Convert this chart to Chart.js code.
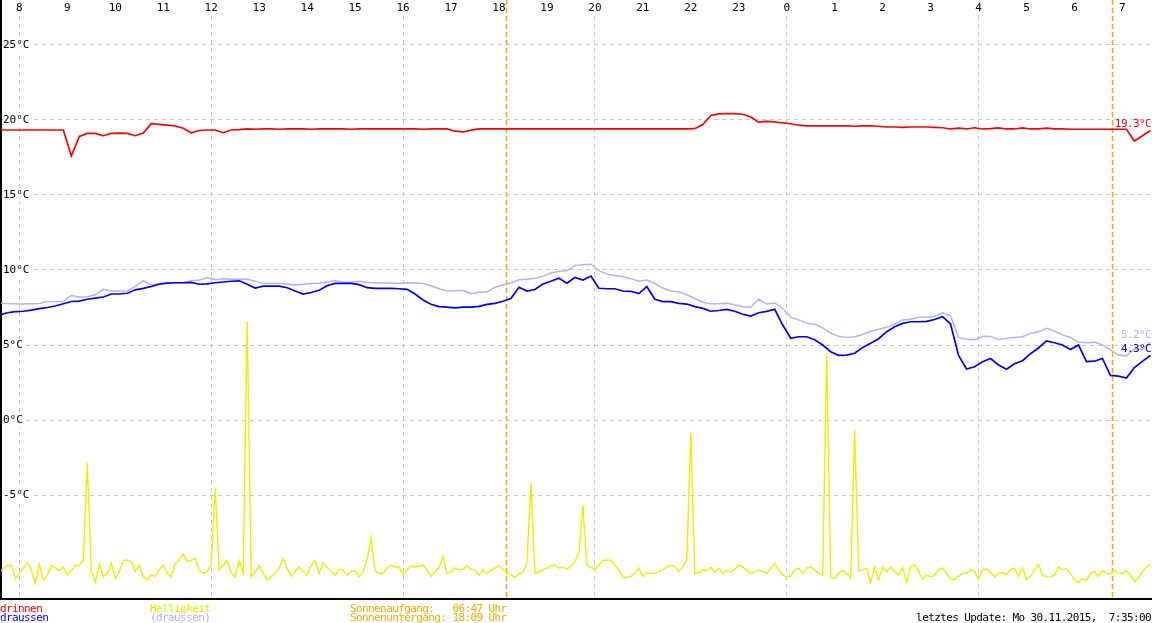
<!DOCTYPE html>
<html>
<head>
<meta charset="utf-8">
<title>Temperaturverlauf</title>
<script src="https://cdn.jsdelivr.net/npm/chart.js@4.4.1/dist/chart.umd.min.js"></script>
<style>
html, body { margin: 0; padding: 0; background: #fff; }
canvas { display: block; }
</style>
</head>
<body>
<canvas id="tempChart" width="1152" height="623"></canvas>
<script>
// hours since midnight of the first day (24 = 0 Uhr, 31 = 7 Uhr next morning)
var startHour = 7 + 35 / 60;      // first sample 7:35
var tempStep = 10 / 60;           // temperatures every 10 min
var lightStep = 5 / 60;           // brightness every 5 min
var axisMin = 7 + 37 / 60;
var axisMax = axisMin + 24;

var hourTicks = [8, 9, 10, 11, 12, 13, 14, 15, 16, 17, 18, 19, 20, 21, 22, 23, 24, 25, 26, 27, 28, 29, 30, 31];
var tempTicks = [-5, 0, 5, 10, 15, 20, 25];
var sunTimes = [18 + 9 / 60, 30 + 47 / 60];   // Sonnenuntergang 18:09, Sonnenaufgang 06:47

// drinnen (°C)
var tempInside = [
	19.33, 19.33, 19.33, 19.33, 19.33, 19.33, 19.33, 19.33, 19.33,
	17.6, 18.9, 19.1, 19.1, 18.95, 19.1, 19.12, 19.1, 18.95, 19.13,
	19.75, 19.7, 19.65, 19.6, 19.45, 19.15, 19.3, 19.33, 19.33, 19.15, 19.33, 19.35,
	19.4, 19.38, 19.4, 19.4, 19.38, 19.4, 19.4, 19.4, 19.38, 19.4,
	19.4, 19.4, 19.4, 19.38, 19.4, 19.4, 19.4, 19.4, 19.4, 19.4,
	19.4, 19.4, 19.38, 19.4, 19.4, 19.4,
	19.25, 19.2, 19.32,
	19.4, 19.4, 19.4, 19.4, 19.4, 19.4, 19.4, 19.4, 19.4, 19.4,
	19.4, 19.4, 19.4, 19.4, 19.4, 19.4, 19.4, 19.4, 19.4, 19.4,
	19.4, 19.4, 19.4, 19.4, 19.4, 19.4, 19.4, 19.42,
	19.7, 20.3, 20.4, 20.42, 20.42, 20.38, 20.2, 19.85, 19.9, 19.87, 19.8, 19.75, 19.65,
	19.6, 19.6, 19.6, 19.6, 19.6, 19.6, 19.58, 19.6, 19.6, 19.58,
	19.53, 19.53, 19.5, 19.53, 19.53, 19.53, 19.5, 19.48,
	19.4, 19.45, 19.4, 19.48, 19.4, 19.42, 19.47, 19.4, 19.4, 19.47,
	19.4, 19.4, 19.46, 19.4, 19.4, 19.38, 19.38, 19.38, 19.38, 19.38,
	19.38, 19.38, 19.38,
	18.6, 18.95, 19.3
];

// draussen (°C)
var tempOutside = [
	7.0, 7.15, 7.22, 7.25, 7.33, 7.42, 7.5, 7.6, 7.75, 7.9,
	7.93, 8.05, 8.12, 8.2, 8.4, 8.4, 8.45, 8.68, 8.78, 8.9,
	9.05, 9.12, 9.15, 9.15, 9.17, 9.05, 9.08, 9.15, 9.2, 9.25,
	9.28, 9.05, 8.8, 8.92, 8.93, 8.93, 8.82, 8.6, 8.4, 8.5,
	8.65, 8.95, 9.11, 9.11, 9.11, 9.02, 8.82, 8.78, 8.78, 8.78,
	8.75, 8.71, 8.4, 8.0, 7.72, 7.56, 7.53, 7.48, 7.53, 7.53,
	7.58, 7.71, 7.78, 7.92, 8.1, 8.85, 8.6, 8.7, 9.07, 9.25,
	9.45, 9.12, 9.5, 9.33, 9.6, 8.78, 8.75, 8.75, 8.6, 8.58,
	8.43, 8.9, 8.05, 7.89, 7.89, 7.78, 7.73, 7.56, 7.44, 7.25,
	7.3, 7.38, 7.25, 7.05, 6.93, 7.15, 7.24, 7.38, 6.33, 5.45,
	5.55, 5.55, 5.35, 5.0, 4.55, 4.31, 4.33, 4.45, 4.84, 5.12,
	5.42, 5.89, 6.22, 6.44, 6.55, 6.55, 6.58, 6.7, 6.89, 6.4,
	4.3, 3.4, 3.55, 3.89, 4.1, 3.67, 3.38, 3.75, 3.95, 4.42,
	4.8, 5.27, 5.15, 5.0, 4.7, 5.0, 3.89, 3.92, 4.1, 2.97,
	2.93, 2.8, 3.5, 3.91, 4.3
];

// zweiter Aussenfuehler (°C)
var tempOutside2 = [
	7.78, 7.76, 7.74, 7.73, 7.75, 7.77, 7.89, 7.89, 7.89, 8.3,
	8.2, 8.22, 8.35, 8.71, 8.62, 8.6, 8.62, 8.9, 9.29, 8.98,
	9.1, 9.15, 9.15, 9.15, 9.28, 9.33, 9.5, 9.35, 9.42, 9.38,
	9.38, 9.38, 9.25, 9.11, 9.11, 9.11, 9.05, 9.0, 9.05, 9.1,
	9.12, 9.2, 9.29, 9.2, 9.18, 9.25, 9.17, 9.15, 9.13, 9.12,
	9.11, 9.15, 9.13, 9.11, 8.95, 8.75, 8.6, 8.62, 8.65, 8.42,
	8.52, 8.55, 8.85, 9.0, 9.15, 9.35, 9.38, 9.45, 9.58, 9.8,
	9.91, 9.95, 10.3, 10.36, 10.38, 9.95, 9.72, 9.63, 9.55, 9.42,
	9.25, 9.33, 9.1, 8.8, 8.6, 8.55, 8.35, 8.1, 7.85, 7.74,
	7.75, 7.78, 7.68, 7.55, 7.52, 8.05, 7.73, 7.8, 7.44, 6.85,
	6.68, 6.45, 6.38, 6.15, 5.8, 5.58, 5.51, 5.55, 5.7, 5.9,
	6.05, 6.18, 6.4, 6.67, 6.72, 6.85, 6.85, 6.92, 7.15, 6.95,
	5.5, 5.38, 5.35, 5.58, 5.57, 5.35, 5.44, 5.5, 5.55, 5.78,
	5.88, 6.11, 5.92, 5.67, 5.5, 5.2, 5.15, 5.2, 5.0, 4.68,
	4.33, 4.27, 4.75, 4.71, 5.2
];

// Helligkeit (relative, 0..100)
var brightness = [
	4.7, 5.1, 5.7, 5.8, 3.5, 4.4, 5.3, 6.2, 5.0, 2.7,
	6.0, 3.3, 4.1, 5.8, 5.3, 4.9, 5.5, 4.1, 4.9, 5.7,
	5.8, 6.7, 23.3, 4.7, 2.8, 6.0, 3.8, 4.4, 6.1, 3.5,
	4.7, 6.6, 6.7, 6.4, 4.7, 5.8, 3.8, 3.3, 4.1, 3.9,
	5.0, 5.8, 4.4, 3.8, 6.1, 6.7, 7.7, 6.4, 6.6, 7.0,
	4.9, 4.4, 4.7, 5.8, 19.0, 5.0, 5.8, 6.6, 4.4, 3.8,
	6.6, 4.4, 47.6, 3.8, 4.7, 5.8, 4.4, 3.3, 3.8, 4.4,
	5.3, 6.9, 5.3, 3.9, 4.7, 5.5, 4.7, 4.1, 5.8, 6.6,
	4.4, 6.2, 5.5, 4.7, 4.1, 5.1, 4.9, 4.1, 4.7, 4.9,
	3.8, 4.7, 6.7, 10.6, 4.9, 4.4, 4.4, 5.3, 5.8, 5.5,
	5.5, 4.1, 5.0, 5.7, 5.5, 5.7, 5.8, 5.0, 3.9, 4.7,
	5.4, 7.3, 4.4, 4.7, 5.3, 5.0, 5.1, 5.7, 5.1, 5.0,
	4.1, 5.0, 4.4, 4.9, 5.3, 5.7, 5.0, 4.4, 4.1, 3.7,
	4.3, 4.6, 6.1, 19.9, 4.4, 4.6, 5.0, 5.3, 5.7, 5.8,
	5.3, 5.5, 5.1, 5.7, 6.4, 7.8, 16.1, 5.8, 5.4, 5.0,
	5.8, 6.6, 6.7, 6.6, 5.8, 4.9, 3.8, 3.7, 3.9, 4.4,
	5.3, 3.9, 4.5, 4.4, 4.4, 4.7, 5.0, 5.5, 5.8, 5.5,
	4.7, 5.5, 6.7, 28.5, 4.4, 4.5, 5.0, 4.9, 5.4, 4.6,
	5.3, 4.4, 4.9, 4.6, 5.1, 5.8, 5.5, 4.9, 4.4, 4.7,
	5.0, 4.7, 4.4, 5.3, 6.1, 5.0, 4.1, 3.8, 3.9, 5.0,
	5.3, 4.4, 5.3, 5.5, 5.0, 4.4, 4.1, 42.2, 3.8, 3.5,
	4.4, 4.9, 4.4, 3.6, 28.9, 4.9, 5.0, 5.3, 2.8, 5.5,
	3.3, 5.4, 4.7, 5.5, 4.7, 4.1, 5.4, 2.8, 5.5, 5.9,
	4.7, 3.4, 4.1, 3.8, 4.1, 5.1, 5.3, 4.4, 3.5, 3.4,
	3.9, 4.4, 4.4, 5.0, 4.7, 3.4, 5.1, 5.1, 4.6, 3.8,
	4.4, 4.5, 4.2, 5.1, 5.3, 3.9, 5.4, 3.4, 3.9, 5.0,
	5.9, 4.1, 3.8, 3.8, 4.1, 5.5, 5.0, 5.2, 4.4, 3.3,
	2.8, 3.5, 3.2, 4.4, 4.7, 3.9, 4.9, 4.4, 4.3, 4.9,
	4.4, 4.4, 4.9, 4.1, 3.0, 3.5, 4.7, 5.5, 6.0
];

var footerLines = [
	{ x: 0, row: 0, text: 'drinnen', color: '#ff0000' },
	{ x: 0, row: 1, text: 'draussen', color: '#0000ff' },
	{ x: 150, row: 0, text: 'Helligkeit', color: '#e8e800' },
	{ x: 150, row: 1, text: '(draussen)', color: '#b0b0ff' },
	{ x: 350, row: 0, text: 'Sonnenaufgang:   06:47 Uhr', color: '#ffa500' },
	{ x: 350, row: 1, text: 'Sonnenuntergang: 18:09 Uhr', color: '#ffa500' }
];
var updateText = 'letztes Update: Mo 30.11.2015,  7:35:00';

var fontFamily = '"DejaVu Sans Mono", "Liberation Mono", monospace';
var gridGray = '#c8c8c8';

var toPoints = function(values, step) {
	return values.map(function(v, i) {
		return { x: startHour + i * step, y: v };
	});
};

var setHourTicks = function(scale) {
	scale.ticks = hourTicks.map(function(h) { return { value: h }; });
};

var sunLinePlugin = {
	id: 'sunLines',
	beforeDatasetsDraw: function(chart) {
		var c = chart.ctx, xs = chart.scales.x;
		c.save();
		// left frame runs up through the hour row
		c.fillStyle = '#000';
		c.fillRect(0, 0, 2, chart.chartArea.bottom);
		c.strokeStyle = '#ffa500';
		c.lineWidth = 1.5;
		c.setLineDash([5, 3]);
		sunTimes.forEach(function(t) {
			var px = Math.round(xs.getPixelForValue(t)) + 0.5;
			c.beginPath();
			c.moveTo(px, 0);
			c.lineTo(px, chart.chartArea.bottom);
			c.stroke();
		});
		c.restore();
	}
};

var endLabelPlugin = {
	id: 'endLabels',
	afterDatasetsDraw: function(chart) {
		var c = chart.ctx, ys = chart.scales.y;
		c.save();
		c.font = '11px ' + fontFamily;
		if ('letterSpacing' in c) c.letterSpacing = '-0.6px';
		c.textAlign = 'right';
		c.textBaseline = 'bottom';
		chart.data.datasets.forEach(function(ds) {
			if (!ds.endLabel) return;
			var last = ds.data[ds.data.length - 1].y;
			c.fillStyle = ds.borderColor;
			c.fillText(last.toFixed(1) + '°C', chart.chartArea.right - 1, ys.getPixelForValue(last) - 1);
		});
		c.restore();
	}
};

var footerPlugin = {
	id: 'footer',
	afterDraw: function(chart) {
		var c = chart.ctx;
		var rows = [612, 621];
		c.save();
		c.font = '11px ' + fontFamily;
		if ('letterSpacing' in c) c.letterSpacing = '-0.6px';
		c.textBaseline = 'alphabetic';
		c.textAlign = 'left';
		footerLines.forEach(function(l) {
			c.fillStyle = l.color;
			c.fillText(l.text, l.x, rows[l.row]);
		});
		c.textAlign = 'right';
		c.fillStyle = '#000';
		c.fillText(updateText, chart.width - 1, rows[1]);
		c.restore();
	}
};

var ctx = document.getElementById('tempChart');
var tempChart = new Chart(ctx, {
	type: 'line',
	data: {
		datasets: [{
			label: 'drinnen',
			data: toPoints(tempInside, tempStep),
			borderColor: '#ff0000',
			borderWidth: 1.7,
			endLabel: true
		}, {
			label: 'draussen',
			data: toPoints(tempOutside, tempStep),
			borderColor: '#0000ff',
			borderWidth: 1.7,
			endLabel: true
		}, {
			label: '(draussen)',
			data: toPoints(tempOutside2, tempStep),
			borderColor: '#b0b0ff',
			borderWidth: 1.4,
			endLabel: true
		}, {
			label: 'Helligkeit',
			data: toPoints(brightness, lightStep),
			borderColor: '#eeee00',
			borderWidth: 1.4,
			yAxisID: 'yLight'
		}]
	},
	options: {
		responsive: false,
		animation: false,
		devicePixelRatio: 1,
		parsing: false,
		normalized: true,
		elements: {
			point: { radius: 0, hoverRadius: 0 },
			line: { tension: 0, fill: false }
		},
		layout: { padding: { left: 1, right: 0, top: 0, bottom: 0 } },
		plugins: {
			legend: { display: false },
			tooltip: { enabled: false }
		},
		events: [],
		scales: {
			x: {
				type: 'linear',
				position: 'bottom',
				min: axisMin,
				max: axisMax,
				afterBuildTicks: setHourTicks,
				afterFit: function(s) { s.height = 24; },
				ticks: {
					autoSkip: false,
					maxRotation: 0,
					padding: -12,
					color: '#000',
					font: { family: fontFamily, size: 11 },
					callback: function(v) { return String(v % 24); }
				},
				grid: {
					drawTicks: false,
					lineWidth: 1,
					color: function(c) {
						return (c.tick && c.tick.value % 4 === 0) ? gridGray : 'rgba(0,0,0,0)';
					}
				},
				border: { display: true, color: '#000', width: 2, dash: [4, 4] }
			},
			xTop: {
				type: 'linear',
				position: 'top',
				min: axisMin,
				max: axisMax,
				afterBuildTicks: setHourTicks,
				afterFit: function(s) { s.height = 16; },
				ticks: {
					autoSkip: false,
					maxRotation: 0,
					padding: 1,
					color: '#000',
					font: { family: fontFamily, size: 11 },
					callback: function(v) { return String(v % 24); }
				},
				grid: { display: false, drawTicks: false },
				border: { display: false }
			},
			y: {
				type: 'linear',
				position: 'left',
				min: -11.93,
				max: 26.93,
				afterBuildTicks: function(s) {
					s.ticks = tempTicks.map(function(t) { return { value: t }; });
				},
				afterFit: function(s) { s.width = 0; },
				ticks: {
					mirror: true,
					padding: 2,
					color: '#000',
					font: { family: fontFamily, size: 11 },
					showLabelBackdrop: true,
					backdropColor: '#ffffff',
					backdropPadding: { top: 0, bottom: 0, left: 0, right: 2 },
					callback: function(v) { return v + '°C'; }
				},
				grid: { color: gridGray, drawTicks: false, lineWidth: 1 },
				border: { display: true, color: '#000', width: 2, dash: [4, 4] }
			},
			yLight: {
				type: 'linear',
				display: false,
				min: 0,
				max: 100
			}
		}
	},
	plugins: [sunLinePlugin, endLabelPlugin, footerPlugin]
});
</script>
</body>
</html>
